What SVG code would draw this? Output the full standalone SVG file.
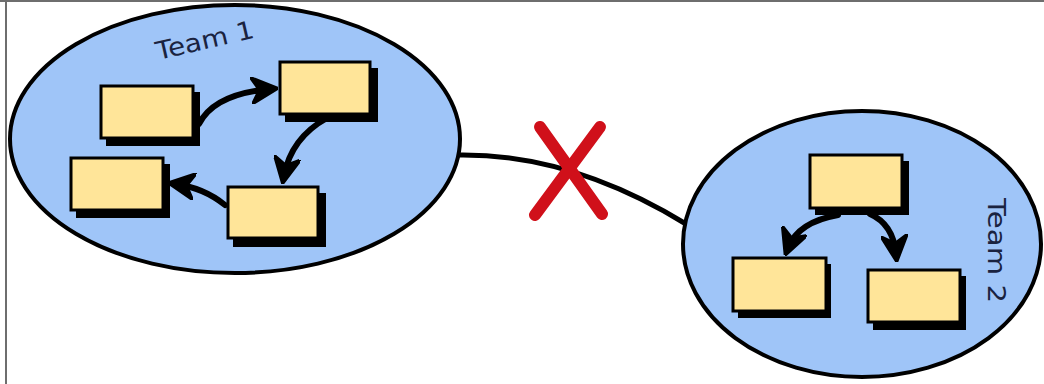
<svg xmlns="http://www.w3.org/2000/svg" width="1044" height="384" viewBox="0 0 1044 384">
  <defs>
    <style>
      .team { fill: #9fc5f8; stroke: #000; stroke-width: 4; }
      .shadow { fill: #000; }
      .box { fill: #ffe599; stroke: #000; stroke-width: 3; }
      .flow { fill: none; stroke: #000; stroke-width: 6; stroke-linecap: round; }
      .label { font-family: "DejaVu Sans", sans-serif; font-size: 25px; fill: #1a2340; }
      .link { fill: none; stroke: #000; stroke-width: 5; }
      .cross { stroke: #d0101a; stroke-width: 12; stroke-linecap: round; }
    </style>
    <marker id="head" viewBox="0 0 10 10" refX="7" refY="5" markerWidth="4.5" markerHeight="4.5" orient="auto" markerUnits="strokeWidth">
      <path d="M0,0 L10,5 L0,10 L3,5 Z" fill="#000" stroke="#000" stroke-width="1" stroke-linejoin="round"/>
    </marker>
  </defs>

  <!-- frame edges -->
  <line x1="6" y1="0" x2="6" y2="384" stroke="#6e6e6e" stroke-width="2"/>
  <line x1="0" y1="1" x2="1044" y2="1" stroke="#6e6e6e" stroke-width="2"/>

  <!-- link between the teams -->
  <g id="connectors">
    <path class="link" d="M457,155 Q570,153 686,224"/>
  </g>

  <!-- broken link mark -->
  <g id="broken">
    <line class="cross" x1="540" y1="127" x2="602" y2="214"/>
    <line class="cross" x1="600" y1="127" x2="535" y2="215"/>
  </g>

  <!-- Team 1 -->
  <g id="team1">
    <ellipse class="team" cx="235" cy="139" rx="225" ry="134"/>
    <text class="label" transform="translate(158,60) rotate(-13)" textLength="100" lengthAdjust="spacingAndGlyphs">Team 1</text>
    <g id="t1-a"><rect class="shadow" x="106" y="92" width="94" height="54"/><rect class="box" x="101" y="86" width="92" height="52"/></g>
    <g id="t1-b"><rect class="shadow" x="285" y="68" width="93" height="54"/><rect class="box" x="280" y="62" width="90" height="52"/></g>
    <g id="t1-c"><rect class="shadow" x="76" y="164" width="94" height="54"/><rect class="box" x="71" y="158" width="92" height="52"/></g>
    <g id="t1-d"><rect class="shadow" x="233" y="193" width="93" height="54"/><rect class="box" x="228" y="187" width="90" height="51"/></g>
    <g class="edges">
      <path class="flow" d="M199,124 Q214,94 270,89" marker-end="url(#head)"/>
      <path class="flow" d="M327,118 Q291,138 284,176" marker-end="url(#head)"/>
      <path class="flow" d="M225,205 Q204,188 176,184" marker-end="url(#head)"/>
    </g>
  </g>

  <!-- Team 2 -->
  <g id="team2">
    <ellipse class="team" cx="862" cy="244" rx="179" ry="133"/>
    <text class="label" transform="translate(988,198) rotate(90)" textLength="105" lengthAdjust="spacingAndGlyphs">Team 2</text>
    <g id="t2-a"><rect class="shadow" x="815" y="161" width="94" height="54"/><rect class="box" x="810" y="155" width="92" height="53"/></g>
    <g id="t2-b"><rect class="shadow" x="738" y="264" width="93" height="54"/><rect class="box" x="733" y="258" width="93" height="53"/></g>
    <g id="t2-c"><rect class="shadow" x="873" y="276" width="93" height="54"/><rect class="box" x="868" y="270" width="92" height="52"/></g>
    <g class="edges">
      <path class="flow" d="M838,215 Q798,222 788,248" marker-end="url(#head)"/>
      <path class="flow" d="M870,214 Q893,224 896,254" marker-end="url(#head)"/>
    </g>
  </g>
</svg>
